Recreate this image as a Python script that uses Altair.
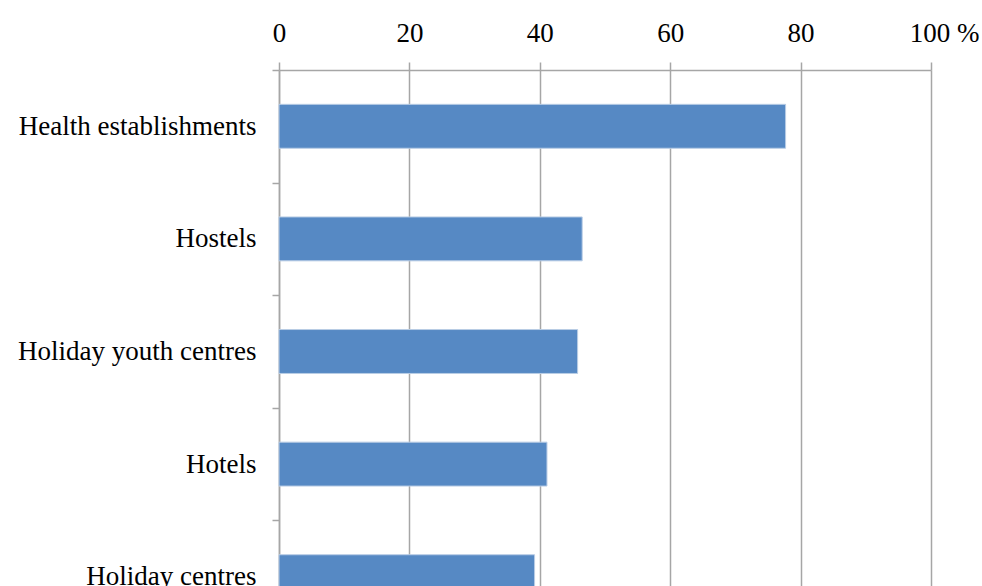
import altair as alt
import pandas as pd

categories = ["Health establishments", "Hostels", "Holiday youth centres", "Hotels", "Holiday centres"]
values = [77.7, 46.5, 45.8, 41.1, 39.2]
x_ticks = [0, 20, 40, 60, 80, 100]

df = pd.DataFrame({"category": categories, "value": values})

FONT = "Liberation Serif"
GRID = "#A6A6A6"

chart = alt.Chart(df).mark_bar(
    color="#5689C4", stroke="#B9CDE5", strokeWidth=1,
    height=alt.RelativeBandSize(0.39),
).encode(
    x=alt.X(
        "value:Q",
        scale=alt.Scale(domain=[0, 100], nice=False),
        axis=alt.Axis(
            orient="top",
            values=x_ticks,
            title=None,
            labelExpr="datum.value == 100 ? '100 %' : datum.label",
            labelOffset={"condition": {"test": "datum.value == 100", "value": 13}, "value": 0},
            labelFlush=False,
            labelOverlap=False,
            labelFont=FONT,
            labelFontSize=27,
            labelColor="black",
            labelPadding=15,
            tickSize=8,
            tickColor=GRID,
            tickWidth=1.5,
            domainColor=GRID,
            domainWidth=1.5,
            grid=True,
            gridColor=GRID,
            gridWidth=1.5,
        ),
    ),
    y=alt.Y(
        "category:N",
        sort=categories,
        scale=alt.Scale(paddingInner=0, paddingOuter=0),
        axis=alt.Axis(
            title=None,
            labelFont=FONT,
            labelFontSize=27,
            labelColor="black",
            labelPadding=16,
            tickBand="extent",
            tickSize=7,
            tickColor=GRID,
            tickWidth=1.5,
            domainColor=GRID,
            domainWidth=1.5,
            grid=False,
            labelLimit=400,
        ),
    ),
).properties(
    width=652,
    height=563,
    autosize=alt.AutoSizeParams(type="none"),
    padding={"left": 279, "top": 70, "right": 51, "bottom": 0},
).configure_view(stroke=None)

chart.save("out.html", embed_options={"renderer": "svg", "actions": False})
